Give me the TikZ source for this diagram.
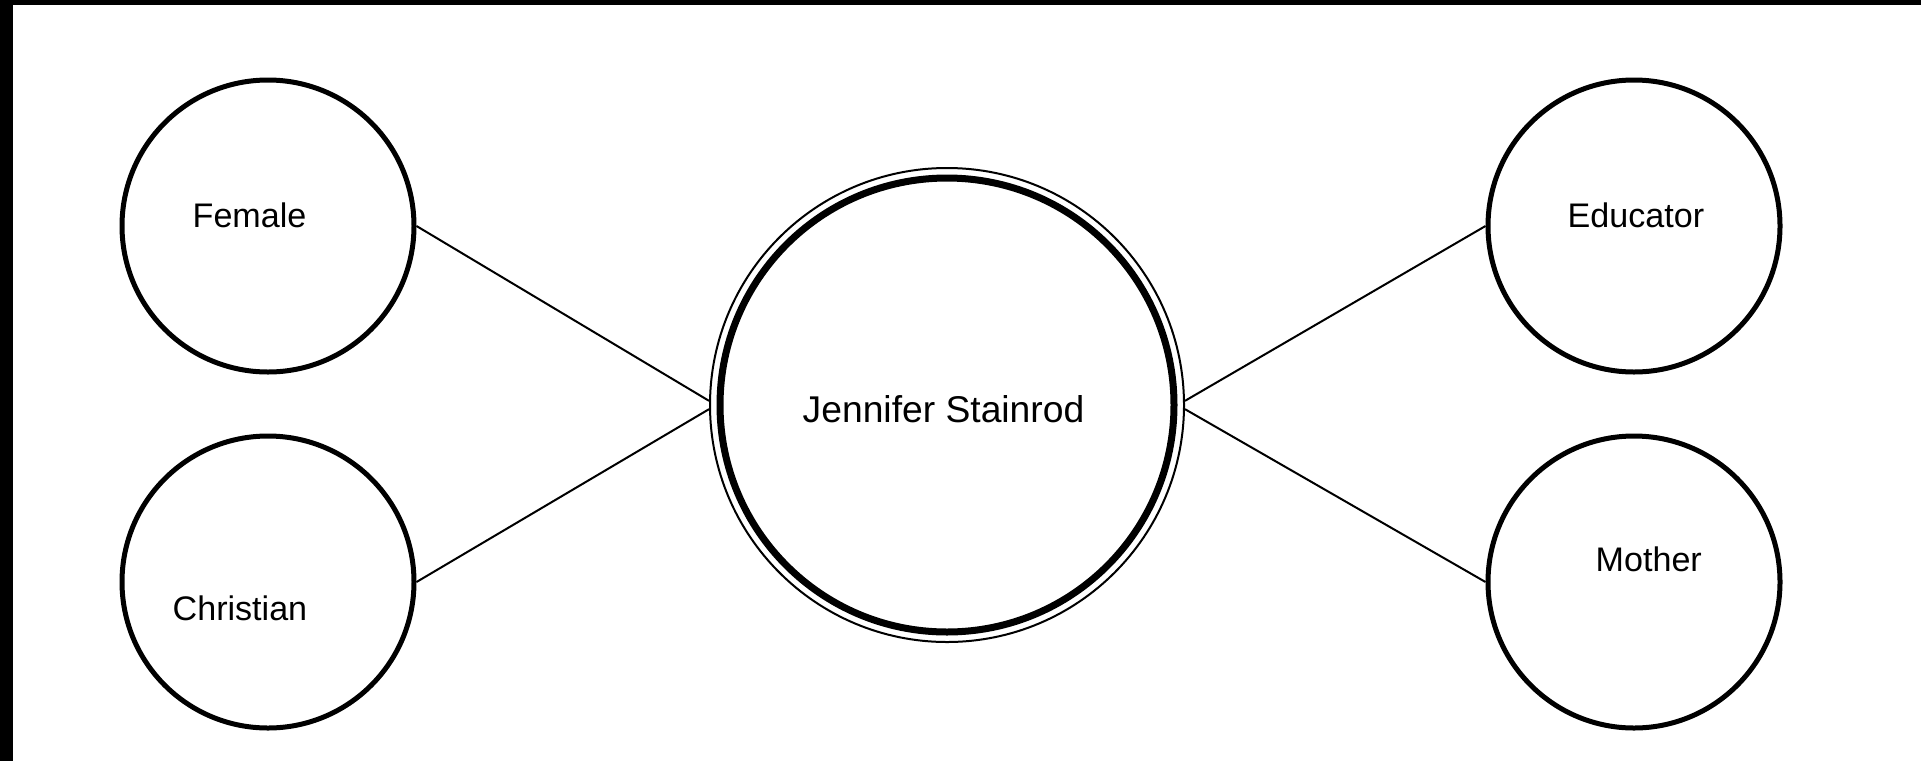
\documentclass[tikz,border=0pt]{standalone}
\usepackage{fontspec}
\setmainfont{Liberation Sans}
\begin{document}
\begin{tikzpicture}[x=0.1mm,y=-0.1mm,
  attr/.style={circle, draw=black, line width=0.5mm, minimum size=2.92cm, inner sep=0pt},
  lbl/.style={anchor=base west, inner sep=0pt, font=\fontsize{9.7}{11}\selectfont},
  biglbl/.style={anchor=base west, inner sep=0pt, font=\fontsize{10.6}{12}\selectfont},
  conn/.style={draw=black, line width=0.2mm}]
\useasboundingbox (0,0) rectangle (1921,761);
\fill[white] (0,0) rectangle (1921,761);
\fill[black] (0,0) rectangle (13,761);
\fill[black] (0,0) rectangle (1921,5);
% central node
\node[circle, draw=black, line width=0.2mm, minimum size=4.74cm, inner sep=0pt] (J) at (947,405) {};
\node[circle, draw=black, line width=0.7mm, minimum size=4.54cm, inner sep=0pt] (Jin) at (J.center) {};
% attribute circles
\node[attr] (F) at (268,226) {};
\node[attr] (C) at (268,582) {};
\node[attr] (E) at (1634,226) {};
\node[attr] (M) at (1634,582) {};
% labels
\node[biglbl] (Jt) at (802,422) {Jennifer Stainrod};
\node[lbl] (Ft) at (192,227) {Female};
\node[lbl] (Ct) at (172,620) {Christian};
\node[lbl] (Et) at (1567,227) {Educator};
\node[lbl] (Mt) at (1595,571) {Mother};
% connectors
\draw[conn] (F.east) -- (J.179);
\draw[conn] (C.east) -- (J.181);
\draw[conn] (E.west) -- (J.1);
\draw[conn] (M.west) -- (J.-1);
\end{tikzpicture}
\end{document}
